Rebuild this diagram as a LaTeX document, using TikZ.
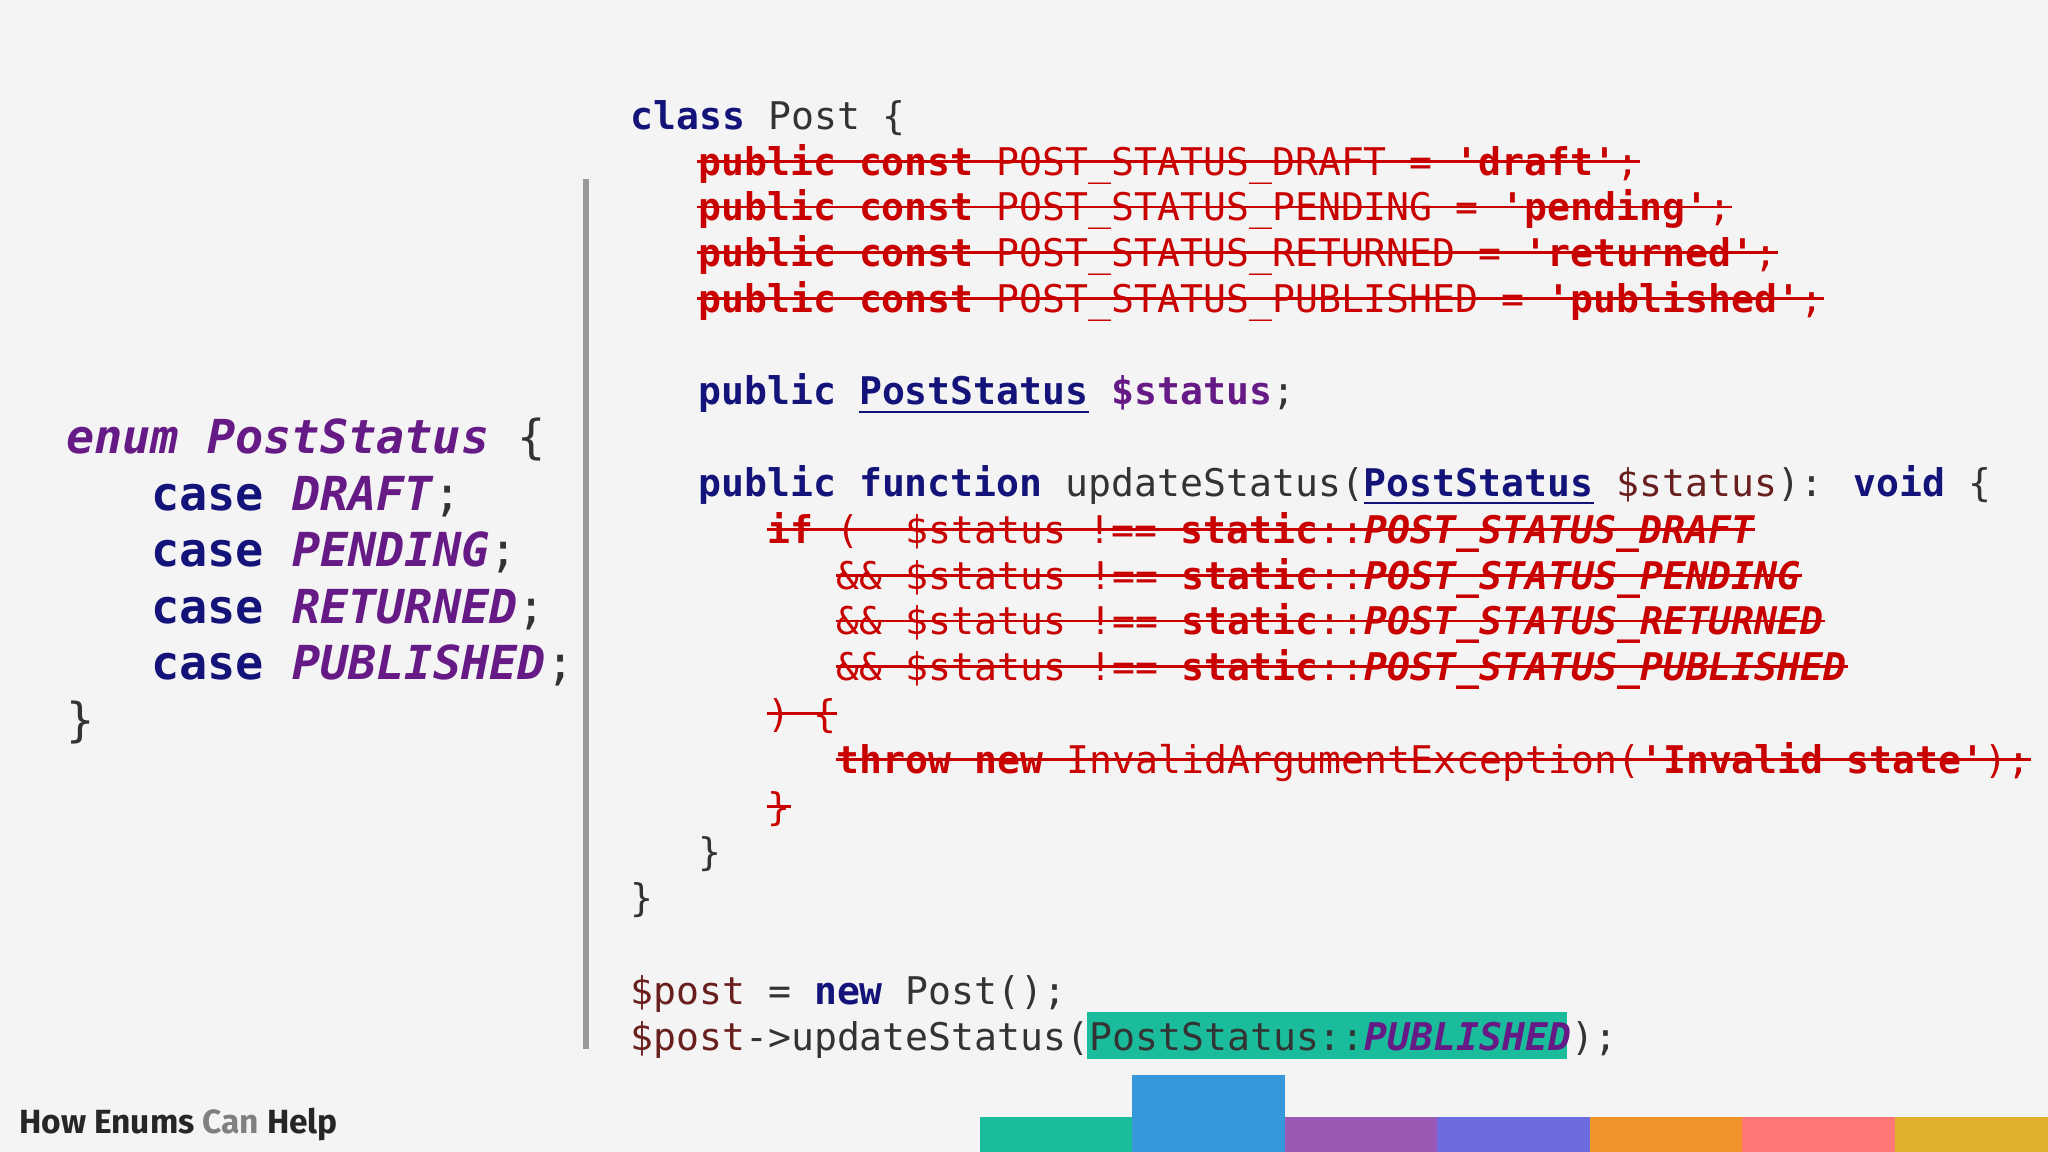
\documentclass[tikz,border=0pt]{standalone}
\usepackage{fontspec}
\newfontfamily\cf{DejaVu Sans Mono}
\newfontfamily\ff{Fira Sans}
\definecolor{bg}{HTML}{F4F4F4}
\definecolor{kwc}{HTML}{14137A}
\definecolor{puc}{HTML}{661A85}
\definecolor{rdc}{HTML}{C80000}
\definecolor{txc}{HTML}{333333}
\definecolor{vrc}{HTML}{6A1F1F}
\definecolor{hlc}{HTML}{1ABC9C}
\definecolor{b1}{HTML}{1ABC9C}
\definecolor{b2}{HTML}{3498DB}
\definecolor{b3}{HTML}{9B59B6}
\definecolor{b4}{HTML}{6C6CE0}
\definecolor{b5}{HTML}{F0932B}
\definecolor{b6}{HTML}{FF7675}
\definecolor{b7}{HTML}{E1B12C}
\newcommand{\kw}[1]{{\bfseries\color{kwc}#1}}
\newcommand{\pu}[1]{{\bfseries\itshape\color{puc}#1}}
\newcommand{\vr}[1]{{\color{vrc}#1}}
\newcommand{\rb}[1]{{\bfseries#1}}
\newcommand{\rbi}[1]{{\bfseries\itshape#1}}
\begin{document}
\begin{tikzpicture}[x=0.01cm,y=-0.01cm,
  code/.style={anchor=base west,inner sep=0pt,font=\cf\fontsize{8.3}{10}\selectfont,text=txc},
  big/.style={anchor=base west,inner sep=0pt,font=\cf\fontsize{10.2}{12}\selectfont,text=txc},
  struck/.style={code,text=rdc},
  strike/.style={draw=rdc,line width=0.6pt}]
\fill[bg] (0,0) rectangle (1568,882);
\useasboundingbox (0,0) rectangle (1568,882);
% enum
\node[big] (e1) at (50,347) {\pu{enum} \pu{PostStatus} \{};
\node[big] (e2) at (115,391) {\kw{case} \pu{DRAFT};};
\node[big] (e3) at (115,434) {\kw{case} \pu{PENDING};};
\node[big] (e4) at (115,477) {\kw{case} \pu{RETURNED};};
\node[big] (e5) at (115,520) {\kw{case} \pu{PUBLISHED};};
\node[big] (e6) at (50,564) {\}};
% divider
\fill[gray!80] (446,137) rectangle (451,803);
% code
\node[code] (c1) at (482,99) {\kw{class} Post \{};
\node[struck] (s1) at (534,134) {\rb{public const} POST\_STATUS\_DRAFT = \rb{'draft'};};
\node[struck] (s2) at (534,169) {\rb{public const} POST\_STATUS\_PENDING = \rb{'pending'};};
\node[struck] (s3) at (534,204) {\rb{public const} POST\_STATUS\_RETURNED = \rb{'returned'};};
\node[struck] (s4) at (534,239) {\rb{public const} POST\_STATUS\_PUBLISHED = \rb{'published'};};
\node[code] (c2) at (534,310) {\kw{public} \kw{\underline{PostStatus}} {\bfseries\color{puc}\$status};};
\node[code] (c3) at (534,380) {\kw{public} \kw{function} updateStatus(\kw{\underline{PostStatus}} \vr{\$status}): \kw{void} \{};
\node[struck] (s5) at (587,416) {\rb{if} (\ \ \$status !== \rb{static}::\rbi{POST\_STATUS\_DRAFT}};
\node[struck] (s6) at (640,451) {\&\& \$status !== \rb{static}::\rbi{POST\_STATUS\_PENDING}};
\node[struck] (s7) at (640,486) {\&\& \$status !== \rb{static}::\rbi{POST\_STATUS\_RETURNED}};
\node[struck] (s8) at (640,521) {\&\& \$status !== \rb{static}::\rbi{POST\_STATUS\_PUBLISHED}};
\node[struck] (s9) at (587,557) {) \{};
\node[struck] (s10) at (640,592) {\rb{throw new} InvalidArgumentException(\rb{'Invalid state'});};
\node[struck] (s11) at (587,628) {\}};
\node[code] (c4) at (534,663) {\}};
\node[code] (c5) at (482,698) {\}};
\node[code] (c6) at (482,769) {\vr{\$post} = \kw{new} Post();};
\fill[hlc] (832,775) rectangle (1200,811);
\node[code] (c7) at (482,804) {\vr{\$post}->updateStatus(PostStatus::\pu{PUBLISHED});};
\foreach \n in {s1,s2,s3,s4,s5,s6,s7,s8,s9,s10,s11}
  \draw[strike] ([yshift=3pt]\n.base west) -- ([yshift=3pt]\n.base east);
% footer
\node[anchor=base west,inner sep=0pt,font=\ff\bfseries\fontsize{7.3}{9}\selectfont,text=black!85] (ft) at (14,868) {How Enums {\color{gray}Can} Help};
\fill[b1] (750,855) rectangle (867,882);
\fill[b2] (867,823) rectangle (984,882);
\fill[b3] (984,855) rectangle (1100,882);
\fill[b4] (1100,855) rectangle (1217,882);
\fill[b5] (1217,855) rectangle (1334,882);
\fill[b6] (1334,855) rectangle (1451,882);
\fill[b7] (1451,855) rectangle (1568,882);
\end{tikzpicture}
\end{document}
